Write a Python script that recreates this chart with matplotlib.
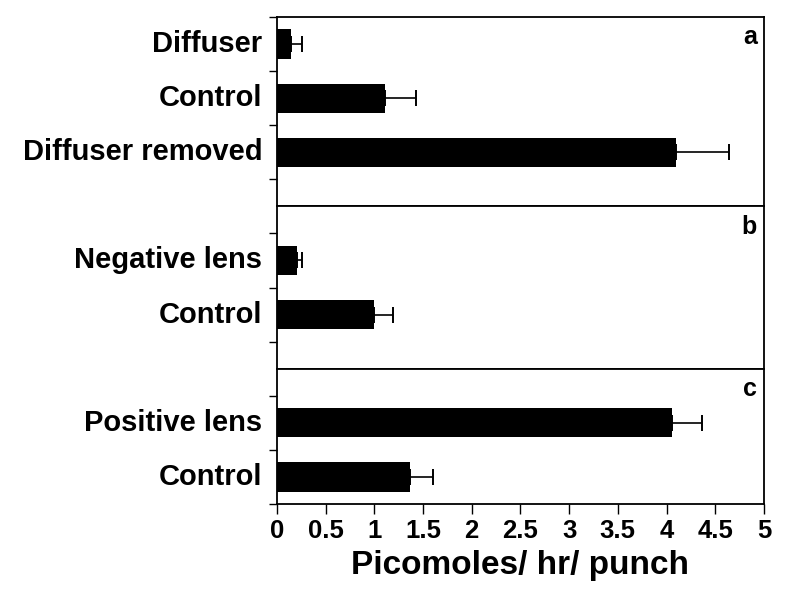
import matplotlib
matplotlib.use("Agg")
import matplotlib.pyplot as plt

plt.rcParams["font.family"] = ["Liberation Sans", "DejaVu Sans"]
plt.rcParams["font.weight"] = "bold"

# panel a
cats_a = ["Diffuser", "Control", "Diffuser removed"]
vals_a = [0.15, 1.11, 4.10]
errs_a = [0.11, 0.32, 0.54]
# panel b
cats_b = ["Negative lens", "Control"]
vals_b = [0.21, 1.00]
errs_b = [0.05, 0.19]
# panel c
cats_c = ["Positive lens", "Control"]
vals_c = [4.06, 1.37]
errs_c = [0.30, 0.23]

xticks = [0, 0.5, 1, 1.5, 2, 2.5, 3, 3.5, 4, 4.5, 5]
xticklabels = ["0", "0.5", "1", "1.5", "2", "2.5", "3", "3.5", "4", "4.5", "5"]

panels = [
    # cats, vals, errs, first bar pos, span, tick positions, letter
    (cats_a, vals_a, errs_a, 0.5, 3.5, [0, 1, 2, 3], "a"),
    (cats_b, vals_b, errs_b, 1.0, 3.0, [0.5, 1.5, 2.5], "b"),
    (cats_c, vals_c, errs_c, 1.0, 2.5, [0.5, 1.5, 2.5], "c"),
]

fig = plt.figure(figsize=(8, 5.94), dpi=100)
gs = fig.add_gridspec(3, 1, height_ratios=[3.5, 3, 2.5], hspace=0,
                      left=0.346, right=0.955, top=0.9714, bottom=0.1515)

axes = []
for i, (cats, vals, errs, y0, span, yt, letter) in enumerate(panels):
    ax = fig.add_subplot(gs[i])
    axes.append(ax)
    pos = [y0 + k for k in range(len(cats))]
    ax.barh(pos, vals, height=0.54, color="black", zorder=2)
    ax.errorbar(vals, pos, xerr=[[0] * len(errs), errs], fmt="none",
                ecolor="black", elinewidth=1.2, capsize=6, capthick=1.4, zorder=1)
    ax.set_ylim(span, 0)
    ax.set_xlim(0, 5)
    ax.set_yticks(yt)
    ax.set_yticklabels([])
    ax.tick_params(axis="y", length=6, width=1.0, direction="out")
    for p, c in zip(pos, cats):
        ax.text(-0.15, p, c, ha="right", va="center", fontsize=21, weight="bold")
    for s in ax.spines.values():
        s.set_linewidth(1.3)
    ax.annotate(letter, xy=(1, 1), xycoords="axes fraction", xytext=(-5, -6),
                textcoords="offset points", ha="right", va="top",
                fontsize=18, weight="bold")
    if i < 2:
        ax.tick_params(axis="x", bottom=False, labelbottom=False)

ax = axes[-1]
ax.set_xticks(xticks)
ax.set_xticklabels(xticklabels, fontsize=18.5, weight="bold")
ax.tick_params(axis="x", length=7, width=1.0, direction="out", pad=4)
ax.set_xlabel("Picomoles/ hr/ punch", fontsize=24, weight="bold", labelpad=5)

fig.savefig("out.png", dpi=100, facecolor="white")
